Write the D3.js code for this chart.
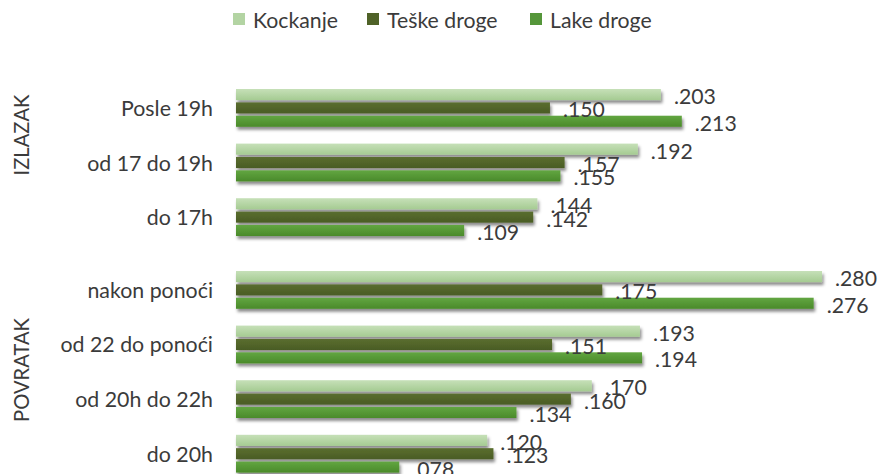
<!DOCTYPE html>
<html>
<head>
<meta charset="utf-8">
<script src="https://cdn.jsdelivr.net/npm/d3@7"></script>
<style>
  html, body { margin: 0; padding: 0; background: #ffffff; }
  svg { display: block; }
  text { font-family: Lato, "Open Sans", sans-serif; fill: #3b3b3b; }
</style>
</head>
<body>
<svg id="chart" width="881" height="474"></svg>
<script>
// ---- data ----
const categories = ["Posle 19h", "od 17 do 19h", "do 17h", "nakon ponoći", "od 22 do ponoći", "od 20h do 22h", "do 20h"];
const groupOfCategory = ["IZLAZAK", "IZLAZAK", "IZLAZAK", "POVRATAK", "POVRATAK", "POVRATAK", "POVRATAK"];
const groups = ["IZLAZAK", "POVRATAK"];
const seriesNames = ["Kockanje", "Teške droge", "Lake droge"];
const kockanje   = [0.203, 0.192, 0.144, 0.280, 0.193, 0.170, 0.120];
const teskeDroge = [0.150, 0.157, 0.142, 0.175, 0.151, 0.160, 0.123];
const lakeDroge  = [0.213, 0.155, 0.109, 0.276, 0.194, 0.134, 0.078];
const seriesValues = [kockanje, teskeDroge, lakeDroge];

// ---- layout ----
const svg = d3.select("#chart");
const x = d3.scaleLinear().domain([0, 0.3]).range([236, 236 + 0.3 * 2093]);
const groupGap = 0.333;
const slot = categories.map((c, i) => i + groups.indexOf(groupOfCategory[i]) * groupGap);
const yCluster = d3.scaleLinear().domain([0, 6 + groupGap]).range([89, 434.8]);
const inner = d3.scaleBand().domain(seriesNames).range([0, 37.8]).paddingInner(0.17);

const defs = svg.append("defs");
const grads = [
  ["g0", "#c6e0b8", "#a5cb92"],
  ["g1", "#5a6e2f", "#4a5c24"],
  ["g2", "#62a641", "#4a8a2a"]
];
grads.forEach(([id, c1, c2]) => {
  const g = defs.append("linearGradient").attr("id", id).attr("x1", 0).attr("y1", 0).attr("x2", 0).attr("y2", 1);
  g.append("stop").attr("offset", "0%").attr("stop-color", c1);
  g.append("stop").attr("offset", "100%").attr("stop-color", c2);
});
const legendColors = ["#b3d4a3", "#4f6228", "#55963a"];
const f = defs.append("filter").attr("id", "shadow").attr("x", "-5%").attr("y", "-40%").attr("width", "115%").attr("height", "200%");
f.append("feDropShadow").attr("dx", 1.5).attr("dy", 3).attr("stdDeviation", 1.6)
  .attr("flood-color", "#000").attr("flood-opacity", 0.45);

// fit font helper
function fitSize(sampleText, targetWidth, base, attrs) {
  const t = svg.append("text").attr("font-size", base).text(sampleText);
  if (attrs) attrs(t);
  const w = t.node().getComputedTextLength();
  t.remove();
  return base * targetWidth / w;
}
const catSize = fitSize("Posle 19h", 92, 20);
const valSize = fitSize(".203", 42, 20);
const legSize = fitSize("Kockanje", 85, 20);
const grpSize = fitSize("POVRATAK", 104, 20);

const fmt = v => d3.format(".3f")(v).replace(/^0/, "");

// bars
const barData = [];
categories.forEach((c, ci) => {
  seriesNames.forEach((s, si) => {
    barData.push({ ci, si, v: seriesValues[si][ci] });
  });
});
const barY = d => yCluster(slot[d.ci]) + inner(seriesNames[d.si]);

svg.append("g").selectAll("rect").data(barData).join("rect")
  .attr("x", x(0))
  .attr("y", barY)
  .attr("width", d => x(d.v) - x(0))
  .attr("height", inner.bandwidth())
  .attr("fill", d => `url(#g${d.si})`)
  .attr("filter", "url(#shadow)");

svg.append("g").selectAll("text").data(barData).join("text")
  .attr("x", d => x(d.v) + 13)
  .attr("y", d => barY(d) + inner.bandwidth() / 2 + 1.5)
  .attr("dominant-baseline", "central")
  .attr("font-size", valSize)
  .text(d => fmt(d.v));

// category labels
svg.append("g").selectAll("text").data(categories).join("text")
  .attr("x", 213)
  .attr("y", (c, i) => yCluster(slot[i]) + 37.8 / 2)
  .attr("text-anchor", "end")
  .attr("dominant-baseline", "central")
  .attr("font-size", catSize)
  .text(d => d);

// group labels (rotated)
const groupCenters = { "IZLAZAK": 135, "POVRATAK": 370 };
groups.forEach(g => {
  svg.append("text")
    .attr("transform", `translate(20.5,${groupCenters[g]}) rotate(-90)`)
    .attr("text-anchor", "middle")
    .attr("dominant-baseline", "central")
    .attr("font-size", grpSize)
    .text(g);
});

// legend
const legendX = [233, 367, 530];
const leg = svg.append("g");
seriesNames.forEach((s, i) => {
  leg.append("rect").attr("x", legendX[i]).attr("y", 13).attr("width", 12).attr("height", 12).attr("fill", legendColors[i]);
  leg.append("text").attr("x", legendX[i] + 20).attr("y", 19.5)
    .attr("dominant-baseline", "central").attr("font-size", legSize).text(s);
});
</script>
</body>
</html>
